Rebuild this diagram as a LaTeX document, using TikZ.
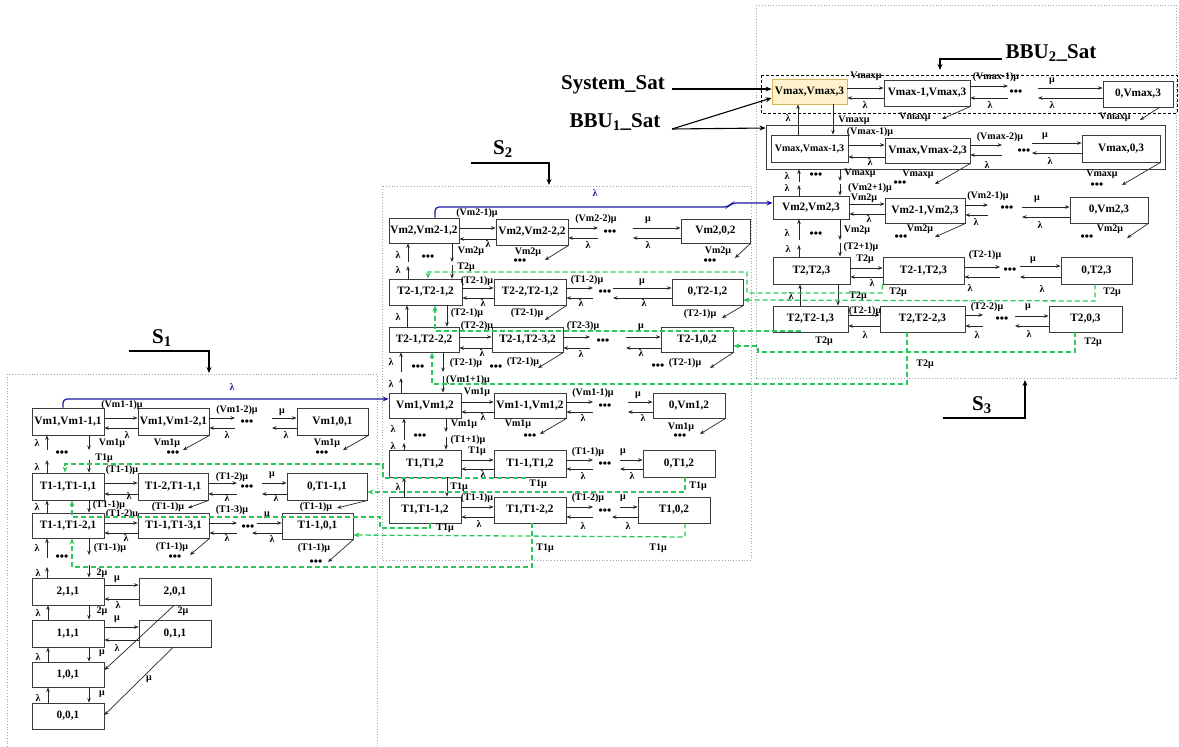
\documentclass[tikz,border=0pt]{standalone}
\usepackage{fontspec}
\setmainfont{Liberation Serif}
\usetikzlibrary{arrows.meta}
\definecolor{grn}{RGB}{40,200,90}
\definecolor{blu}{RGB}{25,25,160}
\definecolor{ylw}{RGB}{255,242,204}
\definecolor{orn}{RGB}{214,182,86}
\definecolor{bdr}{RGB}{60,60,60}
\newcounter{lc}
\newcommand{\Bx}[7][]{\node[bx,#1,minimum width={#5-#3},minimum height={#6-#4}] (#2) at ({(#3+#5)/2},{(#4+#6)/2}) {#7};}
\newcommand{\Lb}[3]{\stepcounter{lc}\node[lb] (L\thelc) at (#1,#2) {#3};}
\newcommand{\Dt}[2]{\stepcounter{lc}\node[dt] (D\thelc) at (#1,#2) {•••};}
\begin{document}
\begin{tikzpicture}[x=1pt,y=-1pt,
 bx/.style={draw=bdr,line width=0.9pt,inner sep=0pt,font=\bfseries\fontsize{11.3}{12}\selectfont},
 lb/.style={inner sep=0pt,font=\bfseries\fontsize{10}{10}\selectfont},
 dt/.style={inner sep=0pt,font=\bfseries\fontsize{12}{12}\selectfont},
 tt/.style={inner sep=0pt,font=\bfseries\fontsize{21}{21}\selectfont},
 ar/.style={draw=black!85,line width=0.7pt,-{Stealth[length=4.5pt,width=3.6pt]}},
 tar/.style={draw=black,line width=1.1pt,-{Stealth[length=6pt,width=5pt]}},
 gr/.style={draw=grn,line width=1.3pt,dash pattern=on 5pt off 3pt,-{Stealth[length=6pt,width=5pt]}},
 bl/.style={draw=blu,line width=1.2pt,rounded corners=4pt,-{Stealth[length=6pt,width=5pt]}},
 fr/.style={draw=gray!70,line width=0.8pt,dotted}]
\useasboundingbox (0,0) rectangle (1179,747);
% frames
\draw[fr] (7,747) -- (7,374) -- (377,374) -- (377,747);
\draw[fr] (382,186) rectangle (751,560);
\draw[fr] (756,5) rectangle (1176,378);
\draw[line width=0.8pt,dash pattern=on 3pt off 2pt] (761,75) rectangle (1177,113);
% titles
\node[tt] (tS1) at (162,338) {S\textsubscript{1}};
\node[tt] (tS2) at (503,149) {S\textsubscript{2}};
\node[tt] (tS3) at (982,405) {S\textsubscript{3}};
\node[tt] (tB2) at (1051,53) {BBU\textsubscript{2}\_Sat};
\node[tt] (tSy) at (613,85) {System\_Sat};
\node[tt] (tB1) at (615,122) {BBU\textsubscript{1}\_Sat};
\coordinate (s1a) at (129,351); \coordinate (s1b) at (209,351); \coordinate (s1c) at (209,373);
\coordinate (s2a) at (471,163); \coordinate (s2b) at (549,163); \coordinate (s2c) at (549,185);
\coordinate (s3a) at (943,418); \coordinate (s3b) at (1025,418); \coordinate (s3c) at (1025,380);
\coordinate (b2a) at (1002,59); \coordinate (b2b) at (940,59); \coordinate (b2c) at (940,70);
\coordinate (sya) at (672,89); \coordinate (b1a) at (672,129);
\draw[tar] (s1a) -- (s1b) -- (s1c);
\draw[tar] (s2a) -- (s2b) -- (s2c);
\draw[tar] (s3a) -- (s3b) -- (s3c);
\draw[tar] (b2a) -- (b2b) -- (b2c);
% ===== S3 boxes
\Bx{bb}{766}{125}{1165}{169}{}
\Bx[fill=ylw,draw=orn]{a1}{772}{79}{847}{104}{Vmax,Vmax,3}
\Bx{a2}{884}{80}{970}{106}{Vmax-1,Vmax,3}
\Bx{a3}{1103}{81}{1173}{107}{0,Vmax,3}
\Bx[font=\bfseries\fontsize{10}{10}\selectfont]{b1}{771}{135}{848}{162}{Vmax,Vmax-1,3}
\Bx{b2}{885}{138}{970}{163}{Vmax,Vmax-2,3}
\Bx{b3}{1082}{135}{1160}{162}{Vmax,0,3}
\Bx{c1}{773}{196}{849}{219}{Vm2,Vm2,3}
\Bx{c2}{885}{198}{965}{223}{Vm2-1,Vm2,3}
\Bx{c3}{1070}{197}{1148}{223}{0,Vm2,3}
\Bx{d1}{773}{257}{850}{284}{T2,T2,3}
\Bx{d2}{883}{257}{964}{284}{T2-1,T2,3}
\Bx{d3}{1061}{257}{1132}{284}{0,T2,3}
\Bx{e1}{773}{306}{848}{332}{T2,T2-1,3}
\Bx{e2}{880}{306}{965}{332}{T2,T2-2,3}
\Bx{e3}{1049}{306}{1122}{332}{T2,0,3}
\draw[tar] (sya) -- (a1.west|-0,89);
\draw[tar] (b1a) -- (a1.west|-0,98);
\draw[tar] (b1a) -- (bb.west|-0,128);
% row a
\draw[ar] (a1.east|-0,88) -- (a2.west|-0,88); \draw[ar] (a2.west|-0,98) -- (a1.east|-0,98);
\Lb{866}{76}{Vmaxμ}\Lb{865}{105}{λ}
\draw[ar] (a2.east|-0,86) -- (1008,86); \draw[ar] (1008,98) -- (a2.east|-0,98);
\Lb{996}{77}{(Vmax-1)μ}\Dt{1016}{93}\Lb{990}{105}{λ}
\draw[ar] (1038,88) -- (a3.west|-0,88); \draw[ar] (a3.west|-0,98) -- (1038,98);
\Lb{1052}{81}{μ}\Lb{1052}{105}{λ}
\draw[ar] (a2.south east) -- (942,119); \Lb{915}{117}{Vmaxμ}
\draw[ar] ([xshift=-14pt]a3.south east) -- (1140,120); \Lb{1115}{117}{Vmaxμ}
\draw[ar] (b1.north -| 798,0) -- (a1.south -| 798,0); \Lb{788}{118}{λ}
\draw[ar] (a1.south -| 833,0) -- (b1.north -| 833,0); \Lb{854}{120}{Vmaxμ}
% row b
\draw[ar] (b1.east|-0,145) -- (b2.west|-0,145); \draw[ar] (b2.west|-0,157) -- (b1.east|-0,157);
\Lb{870}{132}{(Vmax-1)μ}\Lb{870}{162}{λ}
\draw[ar] (b2.east|-0,145) -- (1002,145); \draw[ar] (1002,155) -- (b2.east|-0,155);
\Lb{1000}{137}{(Vmax-2)μ}\Dt{1024}{152}\Lb{987}{165}{λ}
\draw[ar] (1032,143) -- (b3.west|-0,143); \draw[ar] (b3.west|-0,153) -- (1032,153);
\Lb{1045}{136}{μ}\Lb{1050}{161}{λ}
\draw[ar] (b2.south east) -- (935,184); \Lb{918}{174}{Vmaxμ}\Dt{900}{184}
\draw[ar] (b3.south east) -- (1122,185); \Lb{1102}{174}{Vmaxμ}\Dt{1097}{186}
% column bb -> c
\draw[ar] (799,182) -- (bb.south -| 799,0); \Lb{787}{176}{λ}\Dt{816}{176}
\draw[ar] (c1.north -| 799,0) -- (799,185); \Lb{787}{188}{λ}
\draw[ar] (bb.south -| 840,0) -- (840,181); \Lb{860}{173}{Vmaxμ}
\draw[ar] (840,184) -- (c1.north -| 840,0); \Lb{870}{188}{(Vm2+1)μ}
% row c
\draw[ar] (c1.east|-0,204) -- (c2.west|-0,204); \draw[ar] (c2.west|-0,214) -- (c1.east|-0,214);
\Lb{864}{198}{Vm2μ}\Lb{869}{219}{λ}
\draw[ar] (c2.east|-0,205) -- (988,205); \draw[ar] (988,215) -- (c2.east|-0,215);
\Lb{988}{196}{(Vm2-1)μ}\Dt{1007}{209}\Lb{976}{222}{λ}
\draw[ar] (1022,207) -- (c3.west|-0,207); \draw[ar] (c3.west|-0,217) -- (1022,217);
\Lb{1037}{199}{μ}\Lb{1040}{225}{λ}
\draw[ar] (c2.south east) -- (935,237); \Lb{920}{229}{Vm2μ}\Dt{901}{238}
\draw[ar] (c3.south east) -- (1127,238); \Lb{1110}{229}{Vm2μ}\Dt{1087}{238}
% column c -> d
\draw[ar] (799,240) -- (c1.south -| 799,0); \Lb{787}{233}{λ}\Dt{816}{235}
\draw[ar] (d1.north -| 799,0) -- (799,245); \Lb{788}{249}{λ}
\draw[ar] (c1.south -| 840,0) -- (840,240); \Lb{857}{230}{Vm2μ}
\draw[ar] (840,243) -- (d1.north -| 840,0); \Lb{861}{247}{(T2+1)μ}
% row d
\draw[ar] (d1.east|-0,268) -- (d2.west|-0,268); \draw[ar] (d2.west|-0,277) -- (d1.east|-0,277);
\Lb{865}{259}{T2μ}\Lb{872}{283}{λ}
\draw[ar] (d2.east|-0,267) -- (1000,267); \draw[ar] (1000,277) -- (d2.east|-0,277);
\Lb{985}{255}{(T2-1)μ}\Dt{1010}{271}\Lb{970}{288}{λ}
\draw[ar] (1020,266) -- (d3.west|-0,266); \draw[ar] (d3.west|-0,277) -- (1020,277);
\Lb{1033}{260}{μ}\Lb{1042}{289}{λ}
% column d -> e
\draw[ar] (e1.north -| 800,0) -- (d1.south -| 800,0); \Lb{791}{296}{λ}
\draw[ar] (d1.south -| 838,0) -- (e1.north -| 838,0); \Lb{858}{296}{T2μ}
% row e
\draw[ar] (e1.east|-0,315) -- (e2.west|-0,315); \draw[ar] (e2.west|-0,326) -- (e1.east|-0,326);
\Lb{865}{311}{(T2-1)μ}\Lb{865}{335}{λ}
\draw[ar] (e2.east|-0,315) -- (983,315); \draw[ar] (983,326) -- (e2.east|-0,326);
\Lb{987}{307}{(T2-2)μ}\Dt{1002}{320}\Lb{977}{335}{λ}
\draw[ar] (1015,316) -- (e3.west|-0,316); \draw[ar] (e3.west|-0,326) -- (1015,326);
\Lb{1028}{307}{μ}\Lb{1029}{334}{λ}
% ===== S2 boxes
\Bx{f1}{389}{218}{459}{243}{Vm2,Vm2-1,2}
\Bx{f2}{496}{219}{568}{245}{Vm2,Vm2-2,2}
\Bx{f3}{681}{219}{750}{243}{Vm2,0,2}
\Bx{g1}{389}{279}{462}{305}{T2-1,T2-1,2}
\Bx{g2}{494}{279}{566}{305}{T2-2,T2-1,2}
\Bx{g3}{672}{279}{743}{305}{0,T2-1,2}
\Bx{h1}{389}{327}{459}{352}{T2-1,T2-2,2}
\Bx{h2}{492}{327}{563}{352}{T2-1,T2-3,2}
\Bx{h3}{661}{327}{733}{352}{T2-1,0,2}
\Bx{i1}{389}{393}{461}{418}{Vm1,Vm1,2}
\Bx{i2}{494}{393}{566}{418}{Vm1-1,Vm1,2}
\Bx{i3}{653}{393}{725}{418}{0,Vm1,2}
\Bx{j1}{389}{450}{461}{477}{T1,T1,2}
\Bx{j2}{494}{450}{566}{477}{T1-1,T1,2}
\Bx{j3}{643}{450}{715}{477}{0,T1,2}
\Bx{k1}{389}{497}{461}{523}{T1,T1-1,2}
\Bx{k2}{494}{497}{566}{523}{T1,T1-2,2}
\Bx{k3}{638}{497}{710}{523}{T1,0,2}
% row f
\draw[ar] (f1.east|-0,228) -- (f2.west|-0,228); \draw[ar] (f2.west|-0,239) -- (f1.east|-0,239);
\Lb{477}{213}{(Vm2-1)μ}\Lb{488}{244}{λ}
\draw[ar] (f2.east|-0,228) -- (598,228); \draw[ar] (598,238) -- (f2.east|-0,238);
\Lb{596}{219}{(Vm2-2)μ}\Dt{610}{233}\Lb{588}{245}{λ}
\draw[ar] (633,228) -- (f3.west|-0,228); \draw[ar] (f3.west|-0,238) -- (633,238);
\Lb{648}{220}{μ}\Lb{648}{245}{λ}
\draw[ar] (f2.south east) -- (545,260); \Lb{528}{252}{Vm2μ}\Dt{520}{262}
\draw[ar] (f3.south east) -- (735,258); \Lb{718}{251}{Vm2μ}\Dt{710}{262}
% column f -> g
\draw[ar] (408,262) -- (f1.south -| 408,0); \Lb{398}{255}{λ}\Dt{428}{258}
\draw[ar] (g1.north -| 408,0) -- (408,266); \Lb{398}{270}{λ}
\draw[ar] (f1.south -| 452,0) -- (452,262); \Lb{471}{251}{Vm2μ}
\draw[ar] (452,265) -- (g1.north -| 452,0); \Lb{466}{267}{T2μ}
% row g
\draw[ar] (g1.east|-0,288) -- (g2.west|-0,288); \draw[ar] (g2.west|-0,298) -- (g1.east|-0,298);
\Lb{477}{281}{(T2-1)μ}\Lb{483}{303}{λ}
\draw[ar] (g2.east|-0,288) -- (593,288); \draw[ar] (593,298) -- (g2.east|-0,298);
\Lb{587}{280}{(T1-2)μ}\Dt{605}{293}\Lb{581}{303}{λ}
\draw[ar] (613,288) -- (g3.west|-0,288); \draw[ar] (g3.west|-0,298) -- (613,298);
\Lb{642}{282}{μ}\Lb{644}{303}{λ}
\draw[ar] (g2.south east) -- (545,320); \Lb{527}{313}{(T2-1)μ}
\draw[ar] (g3.south east) -- (722,318); \Lb{700}{314}{(T2-1)μ}
% column g -> h
\draw[ar] (h1.north -| 407,0) -- (g1.south -| 407,0); \Lb{398}{317}{λ}
\draw[ar] (g1.south -| 447,0) -- (h1.north -| 447,0); \Lb{467}{313}{(T2-1)μ}
% row h
\draw[ar] (h1.east|-0,337) -- (h2.west|-0,337); \draw[ar] (h2.west|-0,348) -- (h1.east|-0,348);
\Lb{477}{326}{(T2-2)μ}\Lb{482}{353}{λ}
\draw[ar] (h2.east|-0,337) -- (590,337); \draw[ar] (590,348) -- (h2.east|-0,348);
\Lb{583}{326}{(T2-3)μ}\Dt{603}{342}\Lb{581}{354}{λ}
\draw[ar] (626,337) -- (h3.west|-0,337); \draw[ar] (h3.west|-0,348) -- (626,348);
\Lb{641}{327}{μ}\Lb{641}{353}{λ}
\draw[ar] (h2.south east) -- (538,368); \Lb{523}{362}{(T2-1)μ}\Dt{496}{368}
\draw[ar] (h3.south east) -- (710,368); \Lb{685}{363}{(T2-1)μ}\Dt{658}{367}
% column h -> i
\draw[ar] (401,372) -- (h1.south -| 401,0); \Lb{391}{362}{λ}\Dt{418}{368}
\draw[ar] (i1.north -| 401,0) -- (401,378); \Lb{391}{384}{λ}
\draw[ar] (h1.south -| 443,0) -- (443,372); \Lb{466}{363}{(T2-1)μ}
\draw[ar] (443,376) -- (i1.north -| 443,0); \Lb{468}{380}{(Vm1+1)μ}
% row i
\draw[ar] (i1.east|-0,402) -- (i2.west|-0,402); \draw[ar] (i2.west|-0,412) -- (i1.east|-0,412);
\Lb{477}{392}{Vm1μ}\Lb{483}{417}{λ}
\draw[ar] (i2.east|-0,402) -- (593,402); \draw[ar] (593,412) -- (i2.east|-0,412);
\Lb{593}{393}{(Vm1-1)μ}\Dt{605}{407}\Lb{583}{418}{λ}
\draw[ar] (628,402) -- (i3.west|-0,402); \draw[ar] (i3.west|-0,412) -- (628,412);
\Lb{638}{395}{μ}\Lb{643}{418}{λ}
\draw[ar] (i2.south east) -- (540,434); \Lb{518}{424}{Vm1μ}\Dt{530}{437}
\draw[ar] (i3.south east) -- (700,434); \Lb{681}{427}{Vm1μ}\Dt{680}{437}
% column i -> j
\draw[ar] (404,440) -- (i1.south -| 404,0); \Lb{393}{429}{λ}\Dt{420}{437}
\draw[ar] (j1.north -| 404,0) -- (404,443); \Lb{393}{446}{λ}
\draw[ar] (i1.south -| 446,0) -- (446,432); \Lb{464}{424}{Vm1μ}
\draw[ar] (446,437) -- (j1.north -| 446,0); \Lb{468}{440}{(T1+1)μ}
% row j
\draw[ar] (j1.east|-0,460) -- (j2.west|-0,460); \draw[ar] (j2.west|-0,469) -- (j1.east|-0,469);
\Lb{477}{451}{T1μ}\Lb{483}{474}{λ}
\draw[ar] (j2.east|-0,460) -- (593,460); \draw[ar] (593,469) -- (j2.east|-0,469);
\Lb{588}{452}{(T1-1)μ}\Dt{605}{465}\Lb{583}{476}{λ}
\draw[ar] (620,460) -- (j3.west|-0,460); \draw[ar] (j3.west|-0,469) -- (620,469);
\Lb{623}{452}{μ}\Lb{632}{476}{λ}
% column j -> k
\draw[ar] (k1.north -| 404,0) -- (j1.south -| 404,0); \Lb{398}{487}{λ}
\draw[ar] (j1.south -| 447,0) -- (k1.north -| 447,0); \Lb{459}{487}{T1μ}
% row k
\draw[ar] (k1.east|-0,507) -- (k2.west|-0,507); \draw[ar] (k2.west|-0,517) -- (k1.east|-0,517);
\Lb{477}{498}{(T1-1)μ}\Lb{479}{524}{λ}
\draw[ar] (k2.east|-0,507) -- (593,507); \draw[ar] (593,517) -- (k2.east|-0,517);
\Lb{588}{498}{(T1-2)μ}\Dt{605}{512}\Lb{583}{526}{λ}
\draw[ar] (620,507) -- (k3.west|-0,507); \draw[ar] (k3.west|-0,517) -- (612,517);
\Lb{623}{498}{μ}\Lb{628}{526}{λ}
% ===== S1 boxes
\Bx{l1}{32}{408}{104}{435}{Vm1,Vm1-1,1}
\Bx{l2}{138}{408}{209}{435}{Vm1,Vm1-2,1}
\Bx{l3}{297}{408}{368}{435}{Vm1,0,1}
\Bx{m1}{32}{473}{104}{500}{T1-1,T1-1,1}
\Bx{m2}{138}{473}{208}{500}{T1-2,T1-1,1}
\Bx{m3}{287}{473}{367}{500}{0,T1-1,1}
\Bx{n1}{32}{513}{104}{538}{T1-1,T1-2,1}
\Bx{n2}{138}{513}{209}{538}{T1-1,T1-3,1}
\Bx{n3}{282}{513}{353}{539}{T1-1,0,1}
\Bx{o1}{32}{578}{104}{605}{2,1,1}
\Bx{o2}{139}{578}{211}{605}{2,0,1}
\Bx{p1}{32}{620}{104}{647}{1,1,1}
\Bx{p2}{139}{620}{211}{647}{0,1,1}
\Bx{q1}{32}{662}{104}{687}{1,0,1}
\Bx{q2}{32}{703}{104}{729}{0,0,1}
% row l
\draw[ar] (l1.east|-0,418) -- (l2.west|-0,418); \draw[ar] (l2.west|-0,428) -- (l1.east|-0,428);
\Lb{122}{405}{(Vm1-1)μ}\Lb{127}{435}{λ}
\draw[ar] (l2.east|-0,418) -- (235,418); \draw[ar] (235,428) -- (l2.east|-0,428);
\Lb{237}{410}{(Vm1-2)μ}\Dt{247}{423}\Lb{227}{435}{λ}
\draw[ar] (272,418) -- (l3.west|-0,418); \draw[ar] (l3.west|-0,428) -- (272,428);
\Lb{282}{412}{μ}\Lb{286}{435}{λ}
\draw[ar] (l2.south east) -- (183,450); \Lb{167}{443}{Vm1μ}\Dt{173}{454}
\draw[ar] (l3.south east) -- (343,450); \Lb{327}{443}{Vm1μ}\Dt{322}{454}
% column l -> m
\draw[ar] (47,450) -- (l1.south -| 47,0); \Lb{37}{443}{λ}\Dt{62}{454}
\draw[ar] (m1.north -| 47,0) -- (47,460); \Lb{37}{467}{λ}
\draw[ar] (l1.south -| 89,0) -- (89,450); \Lb{112}{443}{Vm1μ}
\draw[ar] (89,460) -- (m1.north -| 89,0); \Lb{104}{458}{T1μ}
% row m
\draw[ar] (m1.east|-0,483) -- (m2.west|-0,483); \draw[ar] (m2.west|-0,494) -- (m1.east|-0,494);
\Lb{122}{470}{(T1-1)μ}\Lb{129}{496}{λ}
\draw[ar] (m2.east|-0,483) -- (237,483); \draw[ar] (237,494) -- (m2.east|-0,494);
\Lb{232}{477}{(T1-2)μ}\Dt{247}{488}\Lb{227}{498}{λ}
\draw[ar] (262,483) -- (m3.west|-0,483); \draw[ar] (m3.west|-0,494) -- (262,494);
\Lb{272}{475}{μ}\Lb{276}{498}{λ}
\draw[ar] (m2.south east) -- (188,508); \Lb{168}{507}{(T1-1)μ}
\draw[ar] (m3.south east) -- (337,508); \Lb{316}{507}{(T1-1)μ}
% column m -> n
\draw[ar] (n1.north -| 47,0) -- (m1.south -| 47,0); \Lb{37}{507}{λ}
\draw[ar] (m1.south -| 89,0) -- (n1.north -| 89,0); \Lb{109}{505}{(T1-1)μ}
% row n
\draw[ar] (n1.east|-0,523) -- (n2.west|-0,523); \draw[ar] (n2.west|-0,533) -- (n1.east|-0,533);
\Lb{122}{514}{(T1-2)μ}\Lb{126}{538}{λ}
\draw[ar] (n2.east|-0,523) -- (237,523); \draw[ar] (237,533) -- (n2.east|-0,533);
\Lb{232}{510}{(T1-3)μ}\Dt{248}{528}\Lb{227}{538}{λ}
\draw[ar] (257,523) -- (n3.west|-0,523); \draw[ar] (n3.west|-0,533) -- (252,533);
\Lb{267}{515}{μ}\Lb{272}{539}{λ}
\draw[ar] (n2.south east) -- (190,555); \Lb{172}{547}{(T1-1)μ}\Dt{175}{558}
\draw[ar] (n3.south east) -- (328,562); \Lb{314}{548}{(T1-1)μ}\Dt{316}{563}
% column n -> o
\draw[ar] (47,558) -- (n1.south -| 47,0); \Lb{37}{548}{λ}\Dt{62}{558}
\draw[ar] (o1.north -| 47,0) -- (47,567); \Lb{38}{573}{λ}
\draw[ar] (n1.south -| 89,0) -- (89,555); \Lb{110}{548}{(T1-1)μ}
\draw[ar] (89,565) -- (o1.north -| 89,0); \Lb{102}{573}{2μ}
% rows o, p, q
\draw[ar] (o1.east|-0,585) -- (o2.west|-0,585); \draw[ar] (o2.west|-0,599) -- (o1.east|-0,599);
\Lb{117}{579}{μ}\Lb{118}{605}{λ}
\draw[ar] (p1.north -| 48,0) -- (o1.south -| 48,0); \Lb{38}{613}{λ}
\draw[ar] (o1.south -| 89,0) -- (p1.north -| 89,0); \Lb{102}{611}{2μ}
\draw[ar] (o2.south -| 174,0) -- (q1.east|-0,670); \Lb{183}{611}{2μ}
\draw[ar] (p1.east|-0,627) -- (p2.west|-0,627); \draw[ar] (p2.west|-0,640) -- (p1.east|-0,640);
\Lb{117}{619}{μ}\Lb{117}{648}{λ}
\draw[ar] (q1.north -| 48,0) -- (p1.south -| 48,0); \Lb{38}{657}{λ}
\draw[ar] (p1.south -| 89,0) -- (q1.north -| 89,0); \Lb{102}{653}{μ}
\draw[ar] (p2.south -| 173,0) -- (q2.east|-0,715); \Lb{149}{679}{μ}
\draw[ar] (q2.north -| 48,0) -- (q1.south -| 48,0); \Lb{38}{698}{λ}
\draw[ar] (q1.south -| 89,0) -- (q2.north -| 89,0); \Lb{102}{694}{μ}
% ===== green transitions S3 -> S2
\draw[gr] (d2.south west) -- (882,293) -- (747,293) -- (747,272) -- (428,272) -- (g1.north -| 428,0);
\Lb{898}{292}{T2μ}
\draw[gr] (d3.south -| 1095,0) -- (1095,301) -- (g3.east|-0,300);
\Lb{1112}{292}{T2μ}
\draw[gr] (e1.south -| 800,0) -- (800,331) -- (435,331) -- (g1.south -| 435,0);
\Lb{824}{341}{T2μ}
\draw[gr] (e3.south -| 1075,0) -- (1075,352) -- (758,352) -- (758,346) -- (h3.east|-0,346);
\Lb{1093}{342}{T2μ}
\draw[gr] (e2.south -| 907,0) -- (907,384) -- (432,384) -- (h1.south -| 432,0);
\Lb{925}{364}{T2μ}
% green transitions S2 -> S1
\draw[gr] (j2.south -| 525,0) -- (525,478) -- (383,478) -- (383,464) -- (65,464) -- (m1.north -| 65,0);
\Lb{538}{484}{T1μ}
\draw[gr] (j3.south -| 685,0) -- (685,492) -- (m3.east|-0,492);
\Lb{698}{486}{T1μ}
\draw[gr] (k1.south -| 430,0) -- (430,528) -- (380,528) -- (380,517) -- (72,517) -- (m1.south -| 72,0);
\Lb{445}{528}{T1μ}
\draw[gr] (k2.south -| 532,0) -- (532,567) -- (72,567) -- (n1.south -| 72,0);
\Lb{545}{548}{T1μ}
\draw[gr] (k3.south -| 685,0) -- (685,537) -- (n3.east|-0,535);
\Lb{658}{548}{T1μ}
% blue transitions
\draw[bl] (f1.north -| 435,0) -- (435,207) -- (728,207) -- (732,203) -- (c1.west|-0,203);
\node[lb,text=blu] (lamb2) at (595,193) {λ};
\draw[bl] (l1.north -| 63,0) -- (63,399) -- (i1.west|-0,399);
\node[lb,text=blu] (lamb1) at (232,387) {λ};
\end{tikzpicture}
\end{document}
